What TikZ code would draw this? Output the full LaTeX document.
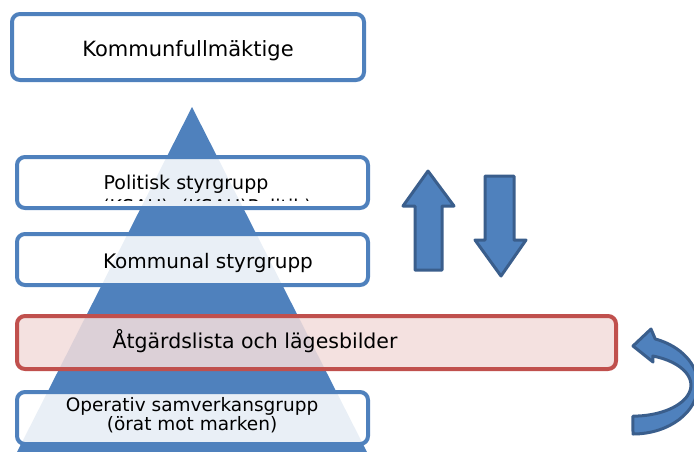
\documentclass[tikz,border=0pt]{standalone}
\usepackage{fontspec}
\setmainfont{DejaVu Sans}
\definecolor{pblue}{HTML}{4F81BD}
\definecolor{pdark}{HTML}{3A5E8C}
\definecolor{pred}{HTML}{C0504D}
\definecolor{ppink}{HTML}{F2DCDB}
\tikzset{
  box/.style={draw=pblue, line width=4pt, rounded corners=8pt, fill=white, fill opacity=0.88, draw opacity=1, inner sep=0pt},
  redbox/.style={draw=pred, line width=4pt, rounded corners=8pt, fill=ppink, fill opacity=0.87, draw opacity=1, inner sep=0pt},
  lbl/.style={anchor=base, inner sep=0pt, text=black},
  fat/.style={fill=pblue, draw=pdark, line width=3pt, line join=round}
}
\begin{document}
\begin{tikzpicture}[x=1pt,y=-1pt]
\useasboundingbox (0,0) rectangle (694,451);
\clip (0,0) rectangle (694,451);
% pyramid
\fill[pblue] (192,107) -- (372,462) -- (12,462) -- cycle;
% boxes
\node[box, minimum width=352pt, minimum height=66pt] (kf) at (188,47) {};
\node[box, minimum width=351pt, minimum height=51pt] (pol) at (192.5,182.5) {};
\node[box, minimum width=351pt, minimum height=51pt] (kom) at (192.5,259.5) {};
\node[redbox, minimum width=599pt, minimum height=53pt] (atg) at (316.5,342.5) {};
\node[box, minimum width=351pt, minimum height=52pt] (op) at (192.5,418) {};
% texts
\node[lbl, font=\fontsize{21}{25}\selectfont] (tkf) at (188,56) {Kommunfullmäktige};
\node[lbl, font=\fontsize{19}{23}\selectfont] (tpol) at (186,189) {Politisk styrgrupp};
\begin{scope}
\clip (17,197) rectangle (368,200);
\node[lbl, font=\fontsize{19}{23}\selectfont] (tpol2) at (207,213) {(KSAU), (KSAU)Politik)};
\end{scope}
\node[lbl, font=\fontsize{20}{24}\selectfont] (tkom) at (208,268) {Kommunal styrgrupp};
\node[lbl, font=\fontsize{20.5}{24}\selectfont] (tatg) at (255,348) {Åtgärdslista och lägesbilder};
\node[lbl, font=\fontsize{18.5}{22}\selectfont] (top1) at (192,411) {Operativ samverkansgrupp};
\node[lbl, font=\fontsize{18.5}{22}\selectfont] (top2) at (192,430) {(örat mot marken)};
% up / down arrows
\draw[fat] (428,171) -- (454,206) -- (442,206) -- (442,270) -- (415,270) -- (415,206) -- (403,206) -- cycle;
\draw[fat] (485,176) -- (514,176) -- (514,240) -- (526,240) -- (501,276) -- (475,240) -- (485,240) -- cycle;
% curved arrow
\draw[fat] (633,434) arc[start angle=90, end angle=-70, x radius=65, y radius=49]
  -- (651,329) -- (633,346) -- (653,362) -- (652.8,356)
  arc[start angle=-70, end angle=90, x radius=58, y radius=31] -- cycle;
\end{tikzpicture}
\end{document}
